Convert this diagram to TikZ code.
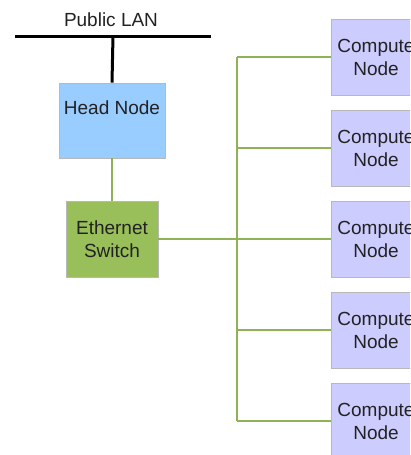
\documentclass[tikz,border=0pt]{standalone}
\usepackage{fontspec}
\setmainfont{Liberation Sans}
\definecolor{headc}{HTML}{99CCFF}
\definecolor{switchc}{HTML}{99BF5A}
\definecolor{compc}{HTML}{CCCCFF}
\definecolor{boxline}{HTML}{B8B8B8}
\definecolor{netg}{HTML}{8DB356}
\definecolor{txt}{HTML}{222222}
\begin{document}
\begin{tikzpicture}[x=1pt,y=-1pt,
  box/.style={draw=boxline,line width=0.8pt,minimum width=#1,inner sep=0pt,align=center,text=txt,font=\fontsize{19}{23}\selectfont},
  lbl/.style={inner sep=0pt,align=center,text=txt,font=\fontsize{19}{23}\selectfont},
  gline/.style={draw=netg,line width=1.5pt},
  bline/.style={draw=black,line width=3pt}]
\useasboundingbox (0,0) rectangle (410,455);
\clip (0,0) rectangle (410,455);
\node[lbl] (lanlbl) at (111,20) {Public LAN};
\coordinate (lanL) at (15,36);
\coordinate (lanR) at (211,36);
\coordinate (lanT) at (113,36);
\node[box=106pt,minimum height=75pt,fill=headc] (head) at (112,120.5) {};
\node[lbl] (headlbl) at (112,108) {Head Node};
\node[box=92pt,minimum height=76pt,fill=switchc] (sw) at (112,239) {Ethernet\\Switch};
\foreach \i/\y in {1/57,2/148,3/239,4/330,5/421}{
  \node[box=90pt,minimum height=76pt,fill=compc] (c\i) at (376,\y) {Compute\\Node};
}
\coordinate (busT) at (237,57);
\coordinate (busB) at (237,421);
\draw[bline] (lanL) -- (lanR);
\draw[bline] (lanT) -- (head.north);
\draw[gline] (head.south) -- (sw.north);
\draw[gline] (sw.east) -- (busT |- sw.east);
\draw[gline] (busT) -- (busB);
\foreach \i in {1,...,5}{
  \draw[gline] (busT |- c\i.west) -- (c\i.west);
}
\end{tikzpicture}
\end{document}
